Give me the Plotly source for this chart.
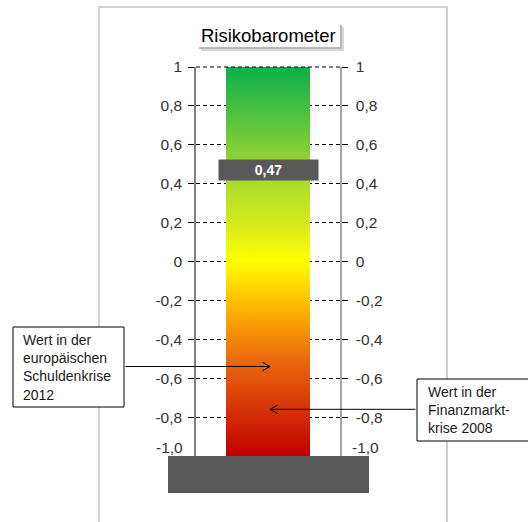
import plotly.graph_objects as go

# ---- values ---------------------------------------------------------------
tick_values = [1.0, 0.8, 0.6, 0.4, 0.2, 0.0, -0.2, -0.4, -0.6, -0.8, -1.0]
tick_labels = ["1", "0,8", "0,6", "0,4", "0,2", "0", "-0,2", "-0,4", "-0,6", "-0,8", "-1,0"]

scale_min = -1.0
scale_max = 1.0

current_value = 0.47
current_label = "0,47"

crisis_values = [-0.54, -0.76]
crisis_texts = [
    "Wert in der<br>europäischen<br>Schuldenkrise<br>2012",
    "Wert in der<br>Finanzmarkt-<br>krise 2008",
]

gradient_stops = [0.0, 0.25, 0.4, 0.5, 0.6, 0.75, 1.0]
gradient_colors = ["#c00000", "#ec6a0e", "#ffc000", "#ffff00", "#d4ea1e", "#98d432", "#0bb04c"]

title_text = "Risikobarometer"

# ---- page geometry (pixels) ----------------------------------------------
W, H = 528, 522
PLOT_L, PLOT_R = 196, 340
PLOT_T, PLOT_B = 67, 456
FONT = "Liberation Sans, Arial, sans-serif"
TICK_FONT = dict(family=FONT, size=15.5, color="#333333")


def px(x):
    return x / W


def py(y):
    return 1 - y / H


def xdata(x):
    return (x - PLOT_L) / (PLOT_R - PLOT_L)


bar_left, bar_right = xdata(226), xdata(310)
arrow_tip_x = xdata(270)

# the bottom label sits above the base block, so it is placed separately
axis_ticktext = [t if v != scale_min else "" for v, t in zip(tick_values, tick_labels)]
bottom_label = tick_labels[tick_values.index(scale_min)]

fig = go.Figure()

# gradient column of the barometer
fig.add_trace(go.Scatter(
    x=[bar_left, bar_right, bar_right, bar_left, bar_left],
    y=[scale_min, scale_min, scale_max, scale_max, scale_min],
    mode="lines", fill="toself", line=dict(width=0),
    fillgradient=dict(type="vertical",
                      colorscale=[[s, c] for s, c in zip(gradient_stops, gradient_colors)],
                      start=scale_min, stop=scale_max),
    hoverinfo="skip", showlegend=False,
))

# invisible trace so the right-hand scale is rendered
fig.add_trace(go.Scatter(
    x=[0.5], y=[current_value], yaxis="y2", mode="markers",
    marker=dict(opacity=0), hoverinfo="skip", showlegend=False,
))

axis_common = dict(
    range=[scale_min, scale_max], tickvals=tick_values, ticktext=axis_ticktext,
    ticks="outside", ticklen=6, tickwidth=1, tickcolor="#000000",
    tickfont=TICK_FONT,
    zeroline=False, showline=True, linewidth=1.5, fixedrange=True,
    automargin=False,
    domain=[py(PLOT_B), py(PLOT_T)],
)

fig.update_layout(
    width=W, height=H,
    margin=dict(l=0, r=0, t=0, b=0, pad=0, autoexpand=False),
    paper_bgcolor="white", plot_bgcolor="rgba(0,0,0,0)",
    showlegend=False,
    xaxis=dict(domain=[px(PLOT_L), px(PLOT_R)], range=[0, 1], visible=False,
               fixedrange=True, automargin=False),
    yaxis=dict(**axis_common, side="left", linecolor="#808080", ticklabelstandoff=3,
               showgrid=True, gridcolor="#000000", gridwidth=1, griddash="4px,3px"),
    yaxis2=dict(**axis_common, side="right", overlaying="y", anchor="x", ticklabelstandoff=5,
                linecolor="#a6a6a6", showgrid=False),
)

shapes = []
# outer frame
shapes.append(dict(type="rect", xref="paper", yref="paper",
                   x0=px(99), x1=px(447), y0=py(7), y1=py(540),
                   line=dict(color="#d0d0d0", width=2), fillcolor="rgba(0,0,0,0)", layer="below"))
# dashed top line running over the column
shapes.append(dict(type="line", xref="paper", yref="paper",
                   x0=px(PLOT_L), x1=px(PLOT_R), y0=py(PLOT_T), y1=py(PLOT_T),
                   line=dict(color="#000000", width=1, dash="4px,3px"), layer="above"))
# base block under the scale
shapes.append(dict(type="rect", xref="paper", yref="paper",
                   x0=px(168), x1=px(369), y0=py(456), y1=py(493),
                   line=dict(width=0), fillcolor="#595959", layer="above"))
# title box shadow
shapes.append(dict(type="rect", xref="paper", yref="paper",
                   x0=px(201), x1=px(344), y0=py(27), y1=py(51),
                   line=dict(width=0), fillcolor="#d8d8d8", layer="above"))
shapes.append(dict(type="rect", xref="paper", yref="paper",
                   x0=px(199), x1=px(342), y0=py(25), y1=py(49),
                   line=dict(width=0), fillcolor="#b8b8b8", layer="above"))
# title box
shapes.append(dict(type="rect", xref="paper", yref="paper",
                   x0=px(197), x1=px(340), y0=py(23), y1=py(47),
                   line=dict(width=0), fillcolor="white", layer="above"))
# callout boxes
shapes.append(dict(type="rect", xref="paper", yref="paper",
                   x0=px(13), x1=px(124), y0=py(327), y1=py(407),
                   line=dict(color="#000000", width=1), fillcolor="white", layer="above"))
shapes.append(dict(type="rect", xref="paper", yref="paper",
                   x0=px(417), x1=px(545), y0=py(379), y1=py(441),
                   line=dict(color="#000000", width=1), fillcolor="white", layer="above"))
fig.update_layout(shapes=shapes)

annotations = []
annotations.append(dict(xref="paper", yref="paper", x=px(268.5), y=py(35),
                        xanchor="center", yanchor="middle", showarrow=False,
                        text=title_text, font=dict(family=FONT, size=18.5, color="#000000")))

# bottom scale labels, lifted above the base block
annotations.append(dict(xref="paper", yref="y", x=px(184), y=scale_min, yshift=9,
                        xanchor="right", yanchor="middle", showarrow=False,
                        text=bottom_label, font=TICK_FONT, borderpad=0))
annotations.append(dict(xref="paper", yref="y", x=px(351), y=scale_min, yshift=9,
                        xanchor="left", yanchor="middle", showarrow=False,
                        text=bottom_label, font=TICK_FONT, borderpad=0))

# current reading
annotations.append(dict(xref="x", yref="y", x=0.5, y=current_value,
                        xanchor="center", yanchor="middle", showarrow=False,
                        text="<b>" + current_label + "</b>", width=99, height=20,
                        borderpad=0, bgcolor="#595959",
                        font=dict(family=FONT, size=14, color="white")))

# callout texts
annotations.append(dict(xref="paper", yref="paper", x=px(21), y=py(367),
                        xanchor="left", yanchor="middle", align="left", showarrow=False,
                        text=crisis_texts[0], font=dict(family=FONT, size=14, color="#1a1a1a")))
annotations.append(dict(xref="paper", yref="paper", x=px(426), y=py(410),
                        xanchor="left", yanchor="middle", align="left", showarrow=False,
                        text=crisis_texts[1], font=dict(family=FONT, size=14, color="#1a1a1a")))

# arrows from the callouts to the scale
arrow_style = dict(xref="x", yref="y", text="", showarrow=True, arrowhead=0,
                   arrowwidth=1, arrowcolor="#000000", standoff=0, startstandoff=0)
for value, tail, side in [(crisis_values[0], 124 - 270, -1), (crisis_values[1], 417 - 270, 1)]:
    annotations.append(dict(**arrow_style, x=arrow_tip_x, y=value, ax=tail, ay=0))
    annotations.append(dict(**arrow_style, x=arrow_tip_x, y=value, ax=9 * side, ay=-5))
    annotations.append(dict(**arrow_style, x=arrow_tip_x, y=value, ax=9 * side, ay=5))

fig.update_layout(annotations=annotations)

fig.write_html("out.html")
